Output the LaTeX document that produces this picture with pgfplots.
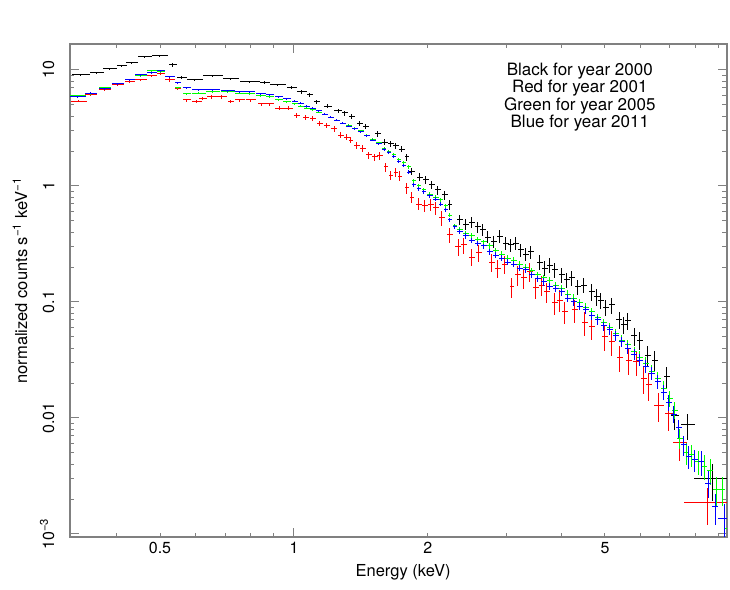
\documentclass[border=0pt]{standalone}
\usepackage{pgfplots}
\pgfplotsset{compat=1.18}
\usepackage{pgfplotstable}
\usepackage{fontspec}
\setmainfont{TeX Gyre Heros}

\pgfplotstableread{
x y ex ey
0.332 9.06 0.047 0.02
0.3607 9.42 0.036 0.02
0.386 10.2 0.036 0.02
0.4106 10.83 0.026 0.02
0.4323 11.49 0.031 0.02
0.4625 12.95 0.036 0.02
0.4997 13.2 0.041 0.02
0.5346 11.04 0.021 0.03
0.560 8.54 0.026 0.03
0.599 8.20 0.041 0.02
0.6576 8.88 0.052 0.02
0.7217 8.36 0.041 0.02
0.7964 7.88 0.052 0.02
0.8607 7.73 0.026 0.03
0.9206 7.43 0.041 0.02
0.9897 7.00 0.026 0.03
1.0423 6.46 0.026 0.03
1.0864 6.09 0.016 0.04
1.1265 5.30 0.016 0.04
1.1924 4.89 0.021 0.04
1.2559 4.43 0.021 0.04
1.302 4.26 0.016 0.05
1.3497 4.01 0.016 0.05
1.4069 3.49 0.016 0.05
1.4514 3.28 0.016 0.05
1.5444 2.81 0.016 0.06
1.6017 2.39 0.016 0.06
1.6517 2.31 0.016 0.06
1.6951 2.22 0.016 0.06
1.7487 2.08 0.016 0.06
1.7946 1.78 0.012 0.07
1.8416 1.343 0.016 0.07
1.9191 1.192 0.016 0.08
1.9797 1.13 0.016 0.08
2.0422 1.02 0.016 0.08
2.1067 0.924 0.016 0.09
2.1845 0.836 0.016 0.09
2.242 0.686 0.012 0.10
2.3605 0.509 0.016 0.10
2.435 0.470 0.016 0.11
2.5116 0.489 0.016 0.11
2.591 0.443 0.016 0.11
2.659 0.418 0.016 0.12
2.729 0.363 0.016 0.12
2.814 0.329 0.016 0.12
2.9034 0.37 0.016 0.12
2.995 0.322 0.016 0.12
3.073 0.310 0.016 0.13
3.154 0.322 0.016 0.13
3.237 0.281 0.016 0.13
3.322 0.259 0.016 0.13
3.408 0.270 0.016 0.13
3.571 0.221 0.016 0.14
3.665 0.196 0.016 0.14
3.7612 0.208 0.016 0.14
3.860 0.189 0.016 0.14
4.002 0.171 0.016 0.15
4.107 0.155 0.016 0.15
4.214 0.161 0.016 0.15
4.347 0.135 0.016 0.15
4.484 0.140 0.016 0.15
4.674 0.122 0.016 0.16
4.797 0.1105 0.016 0.16
4.897 0.104 0.016 0.16
5.026 0.0905 0.016 0.16
5.184 0.0942 0.016 0.16
5.376 0.070 0.016 0.17
5.517 0.0634 0.016 0.17
5.632 0.0686 0.016 0.17
5.811 0.0510 0.016 0.18
5.9926 0.0470 0.016 0.18
6.246 0.0349 0.016 0.19
6.475 0.0316 0.016 0.19
6.890 0.0226 0.016 0.22
7.182 0.0106 0.021 0.25
7.682 0.0087 0.036 0.25
8.700 0.00298 0.088 0.35
}\blackdata

\pgfplotstableread{
x y ex ey
0.3287 5.40 0.041 0.02
0.3497 6.09 0.031 0.02
0.3761 6.72 0.031 0.02
0.4023 7.43 0.031 0.02
0.4279 7.88 0.026 0.02
0.4530 8.20 0.031 0.02
0.4795 8.88 0.026 0.02
0.5023 9.24 0.021 0.02
0.5263 8.20 0.026 0.03
0.5486 6.86 0.016 0.03
0.5748 5.51 0.021 0.03
0.6052 5.40 0.026 0.03
0.6243 5.73 0.021 0.03
0.6541 5.85 0.026 0.03
0.689 5.85 0.026 0.03
0.7217 5.30 0.016 0.03
0.7561 5.51 0.026 0.03
0.8005 5.51 0.026 0.03
0.8474 5.09 0.021 0.03
0.8832 5.09 0.021 0.03
0.9301 4.70 0.026 0.04
0.9745 4.70 0.021 0.04
1.0157 4.09 0.016 0.05
1.0642 3.93 0.016 0.05
1.1035 3.85 0.016 0.05
1.144 3.49 0.016 0.05
1.1862 3.35 0.016 0.05
1.2302 3.10 0.016 0.06
1.2754 2.75 0.016 0.06
1.3156 2.64 0.016 0.06
1.3427 2.49 0.012 0.06
1.385 2.22 0.016 0.07
1.429 2.12 0.016 0.07
1.474 1.85 0.016 0.07
1.5205 1.78 0.016 0.07
1.5608 1.815 0.016 0.08
1.610 1.46 0.012 0.09
1.6517 1.24 0.012 0.09
1.6951 1.317 0.012 0.09
1.7307 1.216 0.012 0.10
1.7946 0.961 0.012 0.11
1.8416 0.803 0.012 0.11
1.9096 0.699 0.016 0.12
1.9694 0.672 0.016 0.12
2.0317 0.686 0.016 0.12
2.0851 0.646 0.016 0.13
2.1508 0.530 0.016 0.14
2.242 0.378 0.016 0.15
2.337 0.298 0.016 0.16
2.410 0.310 0.016 0.16
2.5116 0.244 0.016 0.17
2.604 0.265 0.016 0.17
2.785 0.221 0.016 0.18
2.873 0.196 0.016 0.18
2.980 0.212 0.016 0.18
3.089 0.135 0.012 0.20
3.187 0.171 0.016 0.19
3.288 0.161 0.016 0.19
3.3908 0.182 0.016 0.19
3.498 0.132 0.016 0.20
3.608 0.140 0.016 0.20
3.703 0.122 0.016 0.20
3.860 0.098 0.016 0.21
3.9611 0.104 0.016 0.21
4.065 0.082 0.016 0.22
4.280 0.0853 0.016 0.22
4.507 0.066 0.016 0.23
4.674 0.0609 0.016 0.23
4.999 0.050 0.016 0.24
5.184 0.0452 0.016 0.24
5.4037 0.0335 0.016 0.25
5.661 0.0316 0.016 0.25
5.871 0.0304 0.016 0.25
6.118 0.0221 0.016 0.27
6.278 0.0193 0.016 0.27
6.611 0.0129 0.026 0.28
6.962 0.0110 0.021 0.30
7.3706 0.00609 0.036 0.30
8.477 0.00185 0.114 0.35
}\reddata

\pgfplotstableread{
x y ex ey
0.327 5.97 0.041 0.015
0.3497 6.21 0.031 0.015
0.3761 7.00 0.031 0.015
0.4023 7.58 0.031 0.015
0.4279 8.20 0.026 0.015
0.4530 8.88 0.031 0.015
0.4795 9.80 0.026 0.015
0.5023 9.61 0.021 0.015
0.5263 8.71 0.026 0.015
0.5486 7.00 0.016 0.02
0.5748 6.21 0.021 0.02
0.6115 6.33 0.036 0.015
0.6576 6.46 0.036 0.015
0.7107 6.46 0.036 0.015
0.7561 6.33 0.026 0.015
0.7964 6.21 0.026 0.015
0.8431 5.97 0.026 0.015
0.8832 5.85 0.021 0.015
0.9253 5.51 0.021 0.015
0.9644 5.30 0.021 0.015
1.0052 5.09 0.016 0.02
1.0370 4.89 0.016 0.02
1.0697 4.70 0.016 0.02
1.1035 4.52 0.016 0.02
1.1381 4.34 0.016 0.02
1.174 4.17 0.016 0.02
1.2112 3.93 0.016 0.02
1.2494 3.70 0.016 0.02
1.2887 3.49 0.016 0.02
1.3289 3.35 0.016 0.02
1.3708 3.16 0.016 0.025
1.4142 2.98 0.016 0.025
1.4588 2.75 0.016 0.025
1.505 2.54 0.016 0.025
1.5527 2.35 0.016 0.025
1.5936 2.12 0.012 0.03
1.6347 1.97 0.012 0.03
1.6777 1.85 0.012 0.03
1.7217 1.70 0.012 0.03
1.767 1.58 0.012 0.03
1.8132 1.46 0.012 0.035
1.8609 1.105 0.012 0.035
1.9096 1.00 0.012 0.035
1.9594 0.924 0.012 0.035
2.0212 0.852 0.016 0.04
2.0851 0.803 0.016 0.04
2.1398 0.757 0.012 0.04
2.196 0.672 0.012 0.04
2.242 0.562 0.012 0.045
2.3008 0.452 0.012 0.045
2.3605 0.418 0.016 0.05
2.435 0.393 0.016 0.05
2.5116 0.371 0.016 0.05
2.591 0.349 0.016 0.05
2.673 0.329 0.016 0.05
2.7565 0.304 0.016 0.055
2.8436 0.276 0.016 0.055
2.9336 0.259 0.016 0.055
3.026 0.239 0.016 0.06
3.1218 0.230 0.016 0.06
3.2204 0.212 0.016 0.06
3.322 0.200 0.016 0.065
3.426 0.185 0.016 0.065
3.534 0.171 0.016 0.065
3.646 0.161 0.016 0.07
3.7612 0.152 0.016 0.07
3.880 0.140 0.016 0.07
4.002 0.130 0.016 0.075
4.128 0.117 0.016 0.075
4.258 0.108 0.016 0.08
4.3922 0.098 0.016 0.08
4.531 0.0905 0.016 0.085
4.674 0.082 0.016 0.085
4.822 0.0728 0.016 0.09
4.974 0.066 0.016 0.09
5.131 0.0598 0.016 0.095
5.293 0.053 0.016 0.10
5.460 0.047 0.016 0.10
5.632 0.0426 0.016 0.11
5.811 0.0371 0.016 0.11
5.9926 0.0335 0.016 0.12
6.182 0.0297 0.016 0.12
6.375 0.0254 0.016 0.13
6.576 0.0218 0.016 0.14
6.785 0.0180 0.016 0.15
6.9984 0.0148 0.016 0.16
7.182 0.0117 0.016 0.17
7.3706 0.0067 0.016 0.19
7.604 0.0050 0.016 0.21
7.843 0.0048 0.016 0.22
8.091 0.00418 0.016 0.23
8.347 0.00385 0.016 0.24
8.6099 0.00356 0.016 0.25
8.882 0.0024 0.016 0.28
9.162 0.0024 0.016 0.28
9.403 0.00112 0.016 0.35
}\greendata

\pgfplotstableread{
x y ex ey
0.327 5.85 0.041 0.015
0.3497 6.33 0.031 0.015
0.3761 6.86 0.031 0.015
0.4023 7.58 0.031 0.015
0.4279 8.20 0.026 0.015
0.4530 9.06 0.031 0.015
0.4795 9.42 0.026 0.015
0.5023 9.80 0.021 0.015
0.5263 8.71 0.026 0.015
0.5486 7.73 0.016 0.02
0.5748 7.00 0.021 0.02
0.6115 6.72 0.036 0.015
0.6576 6.72 0.036 0.015
0.7107 6.59 0.036 0.015
0.7561 6.46 0.026 0.015
0.7964 6.46 0.026 0.015
0.8431 6.21 0.026 0.015
0.8832 6.09 0.021 0.015
0.9253 5.85 0.021 0.015
0.9644 5.62 0.021 0.015
1.0052 5.40 0.016 0.02
1.0370 5.19 0.016 0.02
1.0697 4.89 0.016 0.02
1.1035 4.70 0.016 0.02
1.1381 4.43 0.016 0.02
1.174 4.17 0.016 0.02
1.2112 3.93 0.016 0.02
1.2494 3.70 0.016 0.02
1.2887 3.49 0.016 0.02
1.3289 3.28 0.016 0.02
1.3708 3.10 0.016 0.025
1.4142 2.92 0.016 0.025
1.4588 2.70 0.016 0.025
1.505 2.49 0.016 0.025
1.5527 2.31 0.016 0.025
1.5936 2.08 0.012 0.03
1.6347 1.93 0.012 0.03
1.6777 1.78 0.012 0.03
1.7217 1.64 0.012 0.03
1.767 1.49 0.012 0.03
1.8132 1.317 0.012 0.035
1.8609 1.02 0.012 0.035
1.9096 0.942 0.012 0.035
1.9594 0.888 0.012 0.035
2.0212 0.82 0.016 0.04
2.0851 0.772 0.016 0.04
2.1398 0.699 0.012 0.04
2.196 0.621 0.012 0.04
2.242 0.509 0.012 0.045
2.3008 0.443 0.012 0.045
2.3605 0.402 0.016 0.05
2.435 0.371 0.016 0.05
2.5116 0.342 0.016 0.05
2.591 0.322 0.016 0.05
2.673 0.304 0.016 0.05
2.7565 0.270 0.016 0.055
2.8436 0.254 0.016 0.055
2.9336 0.239 0.016 0.055
3.026 0.221 0.016 0.06
3.1218 0.212 0.016 0.06
3.2204 0.196 0.016 0.06
3.322 0.189 0.016 0.065
3.426 0.171 0.016 0.065
3.534 0.158 0.016 0.065
3.646 0.149 0.016 0.07
3.7612 0.137 0.016 0.07
3.880 0.130 0.016 0.07
4.002 0.122 0.016 0.075
4.128 0.108 0.016 0.075
4.258 0.100 0.016 0.08
4.3922 0.0923 0.016 0.08
4.531 0.0853 0.016 0.085
4.674 0.0758 0.016 0.085
4.822 0.070 0.016 0.09
4.974 0.0622 0.016 0.09
5.131 0.0574 0.016 0.095
5.293 0.0510 0.016 0.10
5.460 0.0452 0.016 0.10
5.632 0.0401 0.016 0.11
5.811 0.0356 0.016 0.11
5.9926 0.0316 0.016 0.12
6.182 0.0280 0.016 0.12
6.375 0.0244 0.016 0.13
6.576 0.0205 0.016 0.14
6.785 0.0167 0.016 0.15
6.962 0.0137 0.016 0.16
7.145 0.0108 0.016 0.17
7.332 0.0082 0.016 0.18
7.525 0.00585 0.016 0.20
7.722 0.00470 0.016 0.22
7.966 0.00435 0.016 0.22
8.218 0.00418 0.016 0.24
8.521 0.00275 0.016 0.26
8.836 0.00171 0.016 0.30
9.258 0.00137 0.031 0.32
}\bluedata

\definecolor{framegray}{RGB}{128,128,128}
\definecolor{pgred}{RGB}{255,0,0}
\definecolor{pggreen}{RGB}{0,255,0}
\definecolor{pgblue}{RGB}{0,0,255}

\pgfplotsset{
  spec/.style={draw=none, mark=none, forget plot,
    error bars/.cd, x dir=both, x explicit relative, y dir=both, y explicit relative,
    error mark=none, error bar style={draw=#1, line width=1bp, solid}},
}

\begin{document}
\begin{tikzpicture}
\begin{axis}[
  scale only axis, width=657bp, height=493bp,
  xmode=log, ymode=log,
  xmin=0.3138, xmax=9.40, ymin=0.000942, ymax=16.75,
  axis line style={draw=framegray, line width=1.3bp},
  tick style={draw=framegray, line width=1bp},
  major tick length=9bp, minor tick length=4.5bp,
  xtick={1}, xticklabels={1},
  extra x ticks={0.5,2,5}, extra x tick labels={0.5,2,5},
  extra x tick style={major tick length=4.5bp},
  minor xtick={0.4,0.6,0.7,0.8,0.9,3,4,6,7,8,9},
  ytick={0.001,0.01,0.1,1,10},
  yticklabels={10\textsuperscript{−3},0.01,0.1,1,10},
  minor ytick={0.002,0.003,0.004,0.005,0.006,0.007,0.008,0.009,
    0.02,0.03,0.04,0.05,0.06,0.07,0.08,0.09,
    0.2,0.3,0.4,0.5,0.6,0.7,0.8,0.9,
    2,3,4,5,6,7,8,9},
  ticklabel style={font=\fontsize{16bp}{19bp}\selectfont, text=black},
  xticklabel shift=2bp,
  yticklabel style={rotate=90, anchor=south},
  yticklabel shift=12bp,
  xlabel={Energy (keV)},
  xlabel style={font=\fontsize{16.5bp}{19bp}\selectfont, at={(axis description cs:0.507,-0.071)}, anchor=center},
  ylabel={normalized counts s\textsuperscript{−1} keV\textsuperscript{−1}},
  ylabel style={font=\fontsize{16.5bp}{19bp}\selectfont, at={(axis description cs:-0.076,0.52)}, anchor=center, rotate=0},
  clip=true,
]
\addplot[spec=black] table[x=x, y=y, x error=ex, y error=ey]{\blackdata};
\addplot[spec=pgred] table[x=x, y=y, x error=ex, y error=ey]{\reddata};
\addplot[spec=pggreen] table[x=x, y=y, x error=ex, y error=ey]{\greendata};
\addplot[spec=pgblue] table[x=x, y=y, x error=ex, y error=ey]{\bluedata};

\node[font=\fontsize{13bp}{15bp}\selectfont, anchor=center] at (axis description cs:0.502,1.065) {MOS1 Data For 4 Years};
\node[font=\fontsize{17bp}{19bp}\selectfont, anchor=center] at (axis description cs:0.776,0.945) {Black for year 2000};
\node[font=\fontsize{17bp}{19bp}\selectfont, anchor=center] at (axis description cs:0.776,0.9095) {Red for year 2001};
\node[font=\fontsize{17bp}{19bp}\selectfont, anchor=center] at (axis description cs:0.776,0.874) {Green for year 2005};
\node[font=\fontsize{17bp}{19bp}\selectfont, anchor=center] at (axis description cs:0.776,0.8385) {Blue for year 2011};
\coordinate (bl) at (axis description cs:-0.1065,-0.1075);
\coordinate (tr) at (axis description cs:1.0046,1.0892);
\end{axis}
\pgfresetboundingbox
\path (bl) rectangle (tr);
\end{tikzpicture}
\end{document}
